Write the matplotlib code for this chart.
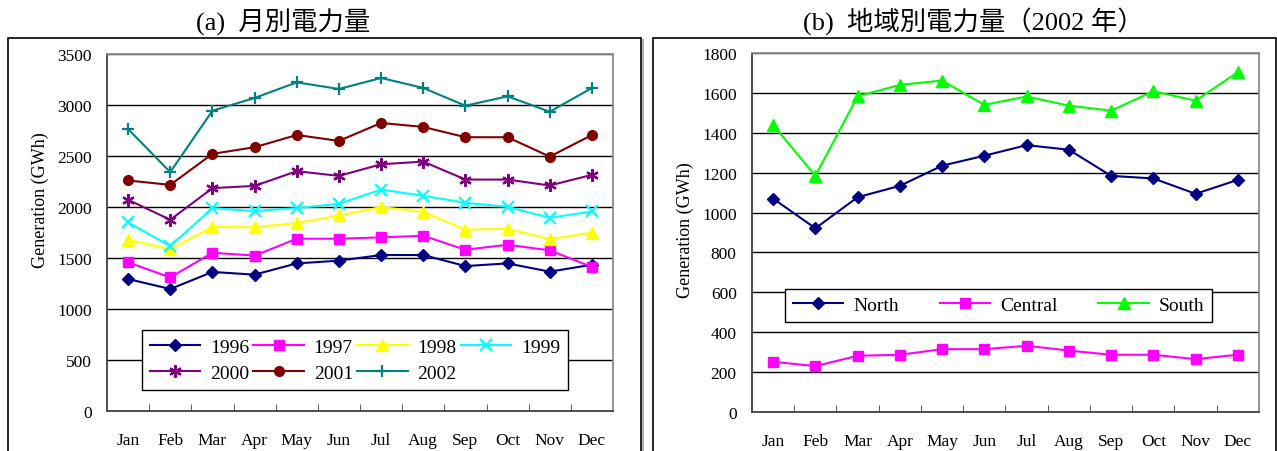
import matplotlib
matplotlib.use("Agg")
import matplotlib.pyplot as plt
from matplotlib.patches import Rectangle
from matplotlib.ticker import MultipleLocator
import numpy as np

months = ["Jan", "Feb", "Mar", "Apr", "May", "Jun",
          "Jul", "Aug", "Sep", "Oct", "Nov", "Dec"]

# monthly generation by year (GWh)
gen_1996 = [1294, 1196, 1363, 1337, 1447, 1474, 1529, 1529, 1421, 1447, 1366, 1434]
gen_1997 = [1457, 1310, 1552, 1523, 1689, 1689, 1702, 1718, 1581, 1630, 1575, 1412]
gen_1998 = [1679, 1584, 1803, 1803, 1842, 1917, 1999, 1953, 1777, 1787, 1686, 1748]
gen_1999 = [1849, 1617, 1989, 1960, 1989, 2031, 2171, 2110, 2041, 2002, 1894, 1956]
gen_2000 = [2071, 1875, 2185, 2207, 2351, 2305, 2419, 2445, 2269, 2269, 2211, 2315]
gen_2001 = [2260, 2217, 2521, 2586, 2706, 2648, 2824, 2785, 2684, 2684, 2494, 2706]
gen_2002 = [2764, 2342, 2944, 3069, 3222, 3157, 3265, 3167, 2993, 3085, 2934, 3167]

# 2002 generation by region (GWh)
north = [1070, 921, 1077, 1134, 1235, 1285, 1338, 1315, 1184, 1171, 1094, 1164]
central = [252, 230, 282, 287, 315, 315, 332, 308, 287, 287, 265, 287]
south = [1439, 1184, 1583, 1640, 1662, 1540, 1582, 1536, 1511, 1608, 1561, 1704]

years = ["1996", "1997", "1998", "1999", "2000", "2001", "2002"]
year_series = [gen_1996, gen_1997, gen_1998, gen_1999, gen_2000, gen_2001, gen_2002]
year_styles = [
    ("#000080", "D", 6.5),
    ("#FF00FF", "s", 7),
    ("#FFFF00", "^", 8),
    ("#00FFFF", "x", 8),
    ("#800080", (6, 2, 0), 9),
    ("#800000", "o", 7),
    ("#008080", "+", 9),
]
regions = ["North", "Central", "South"]
region_series = [north, central, south]
region_styles = [("#000080", "D", 6.5), ("#FF00FF", "s", 7), ("#00FF00", "^", 8)]

serif = "Liberation Serif"
title_font = [serif, "Noto Sans CJK JP"]
W, H = 1277, 452

fig = plt.figure(figsize=(W / 100, H / 100), dpi=100)


def px_axes(left, top, right, bottom):
    return fig.add_axes([left / W, 1 - bottom / H, (right - left) / W, (bottom - top) / H])


def frame(left, top, right):
    # outer chart-area box with a soft right-hand shadow
    fig.add_artist(Rectangle((left / W, -0.1), (right - left) / W, 1.1 - top / H,
                             transform=fig.transFigure, fill=False,
                             edgecolor="black", linewidth=1.2, clip_on=False))
    fig.add_artist(plt.Line2D([(right + 2) / W] * 2, [0, 1 - (top + 2) / H],
                              transform=fig.transFigure, color="#b0b0b0",
                              linewidth=1.5))


def style_axes(ax, ymax, step):
    x = np.arange(len(months))
    ax.set_xlim(-0.5, len(months) - 0.5)
    ax.set_ylim(0, ymax)
    ax.yaxis.set_major_locator(MultipleLocator(step))
    ax.set_xticks(x)
    ax.set_xticklabels(months, family=serif, fontsize=12.5)
    ax.set_xticks(x[:-1] + 0.5, minor=True)
    ax.tick_params(axis="x", which="major", length=0, pad=15)
    ax.tick_params(axis="x", which="minor", direction="in", length=5, color="#404040")
    ax.tick_params(axis="y", direction="in", length=0, pad=11, labelsize=12.5)
    for lab in ax.get_yticklabels():
        lab.set_family(serif)
    ax.grid(axis="y", color="black", linewidth=1.0)
    ax.set_axisbelow(True)
    for side in ("top", "right"):
        ax.spines[side].set_color("#8c8c8c")
        ax.spines[side].set_linewidth(1.3)
    for side in ("left", "bottom"):
        ax.spines[side].set_color("#404040")
        ax.spines[side].set_linewidth(1.3)


frame(8, 39, 641)
frame(653, 39, 1276)

# (a) monthly generation by year
ax1 = px_axes(107, 55, 613, 412)
style_axes(ax1, 3500, 500)
lines1 = []
for name, vals, (c, m, s) in zip(years, year_series, year_styles):
    ln, = ax1.plot(np.arange(len(months)), vals, color=c, marker=m, markersize=s,
                   markeredgewidth=1.6 if m in ("x", "+", (6, 2, 0)) else 1.0,
                   linewidth=1.5, label=name, clip_on=False)
    lines1.append(ln)
# legend fills column by column, so order handles to read across rows
order = [0, 4, 1, 5, 2, 6, 3]
leg1 = ax1.legend([lines1[i] for i in order], [years[i] for i in order],
                  ncol=4, loc="lower left",
                  bbox_to_anchor=(35 / 506, 21 / 357, 426 / 506, 62 / 357),
                  mode="expand", prop={"family": serif, "size": 14}, frameon=True,
                  fancybox=False, edgecolor="black", framealpha=1, handlelength=2.6,
                  handletextpad=0.5, borderpad=0.4, labelspacing=0.45, borderaxespad=0)
leg1.get_frame().set_linewidth(1.0)

# (b) 2002 generation by region
ax2 = px_axes(752, 54, 1259, 413)
style_axes(ax2, 1800, 200)
for name, vals, (c, m, s) in zip(regions, region_series, region_styles):
    ax2.plot(np.arange(len(months)), vals, color=c, marker=m, markersize=s,
             markeredgewidth=1.0, linewidth=1.5, label=name, clip_on=False)
leg2 = ax2.legend(ncol=3, loc="lower left",
                  bbox_to_anchor=(33 / 507, 90 / 359, 427 / 507, 35 / 359),
                  mode="expand", prop={"family": serif, "size": 14}, frameon=True,
                  fancybox=False, edgecolor="black", framealpha=1, handlelength=2.6,
                  handletextpad=0.5, borderpad=0.4, borderaxespad=0)
leg2.get_frame().set_linewidth(1.0)

fig.text(40 / W, 1 - 200 / H, "Generation (GWh)", rotation=90, ha="center", va="center",
         family=serif, fontsize=13)
fig.text(685 / W, 1 - 230 / H, "Generation (GWh)", rotation=90, ha="center", va="center",
         family=serif, fontsize=13)

fig.text(283 / W, 1 - 22 / H, "(a)  月別電力量", ha="center", va="center",
         family=title_font, fontsize=19)
fig.text(973 / W, 1 - 22 / H, "(b)  地域別電力量（2002 年）", ha="center", va="center",
         family=title_font, fontsize=19)

fig.savefig("out.png", dpi=100)
